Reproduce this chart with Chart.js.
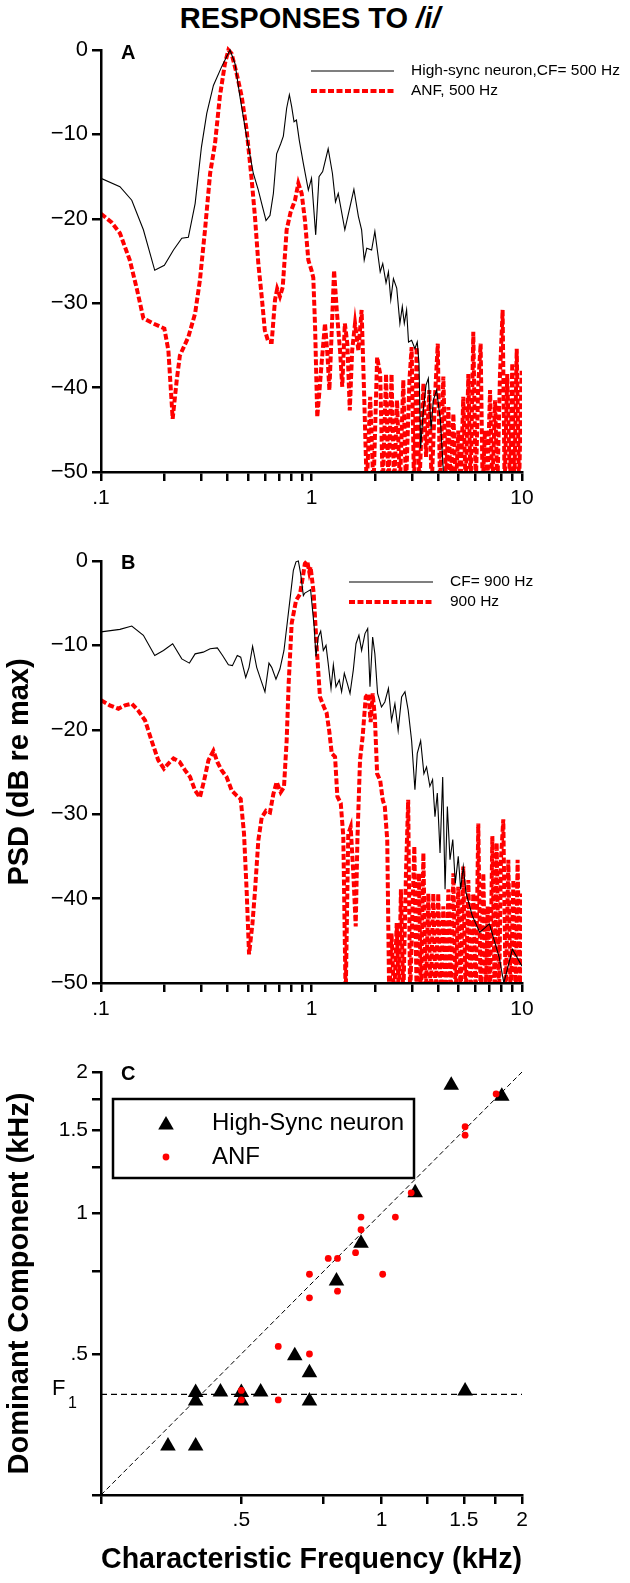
<!DOCTYPE html>
<html>
<head>
<meta charset="utf-8">
<script src="https://cdn.jsdelivr.net/npm/chart.js@4.4.1/dist/chart.umd.min.js"></script>
<style>
  body { margin: 0; background: #fff; }
  #page { position: relative; width: 630px; height: 1583px; font-family: "Liberation Sans", Arial, sans-serif; color: #000; }
  canvas { position: absolute; left: 0; }
  #title { position: absolute; top: 2px; left: 0; width: 620px; text-align: center; font-weight: bold; font-size: 29px; line-height: 32px; z-index: 2; }
  .tag { position: absolute; left: 121px; font-weight: bold; font-size: 20px; line-height: 20px; z-index: 2; }
</style>
</head>
<body>
<div id="page">
  <div id="title">RESPONSES TO <i>/i/</i></div>
  <div class="tag" style="top:42px">A</div>
  <div class="tag" style="top:552px">B</div>
  <div class="tag" style="top:1063px">C</div>
  <canvas id="chartA" width="630" height="500" style="top:40px"></canvas>
  <canvas id="chartB" width="630" height="500" style="top:551px"></canvas>
  <canvas id="chartC" width="630" height="521" style="top:1062px"></canvas>
</div>
<script>
// ---- data ----
const xTickValues = [0.1, 0.2, 0.3, 0.4, 0.5, 0.6, 0.7, 0.8, 0.9, 1, 2, 3, 4, 5, 6, 7, 8, 9, 10];
const xTickLabels = { 0.1: ".1", 1: "1", 10: "10" };
const dbTicks = [-50, -40, -30, -20, -10, 0];

// panel A: high-sync neuron CF 500 Hz vs ANF 500 Hz (kHz, dB re max)
const aNeuronFreq = [0.1, 0.123, 0.14, 0.159, 0.18, 0.2, 0.221, 0.242, 0.26, 0.28, 0.3, 0.318, 0.342, 0.374, 0.395,
  0.41, 0.433, 0.457, 0.492, 0.529, 0.559, 0.58, 0.608, 0.635, 0.659, 0.683, 0.714, 0.735, 0.762, 0.785,
  0.805, 0.826, 0.848, 0.875, 0.914, 0.966, 1.0, 1.047, 1.086, 1.13, 1.2, 1.257, 1.3, 1.34, 1.44,
  1.51, 1.59, 1.67, 1.73, 1.78, 1.83, 1.93, 2.0, 2.12, 2.18, 2.26, 2.32, 2.38, 2.45, 2.54,
  2.63, 2.7, 2.76, 2.83, 2.89, 2.99, 3.1, 3.18, 3.24, 3.3, 3.4, 3.5, 3.59, 3.7, 3.79, 3.93, 4.1, 4.3];
const aNeuronDb = [-15.2, -16.2, -17.8, -21.3, -26.1, -25.5, -23.7, -22.3, -22.2, -18.2, -11.5, -7.5, -4.2, -2.0, -0.8,
  0, -1.6, -5.5, -10.3, -14.6, -16.6, -18.2, -20.2, -19.6, -17.0, -12.3, -11.1, -10.2, -6.9, -5.3,
  -6.7, -8.5, -8.3, -10.7, -13.4, -16.6, -15.2, -21.9, -15.0, -14.4, -11.7, -14.6, -18.0, -17.0, -21.3,
  -19.0, -16.5, -19.7, -21.3, -24.9, -23.5, -23.7, -21.5, -26.3, -25.3, -27.6, -26.3, -29.6, -27.1, -28.2,
  -32.4, -30.4, -32.4, -30.8, -34.6, -34.4, -35.4, -34.6, -37.1, -47.2, -42.6, -39.7, -38.9, -45.0, -41.5, -40.3, -44, -53];

const aAnfFreq = [0.1, 0.112, 0.123, 0.137, 0.148, 0.159, 0.177, 0.2, 0.209, 0.219, 0.229, 0.237, 0.26, 0.28, 0.295,
  0.312, 0.33, 0.348, 0.367, 0.388, 0.403, 0.417, 0.441, 0.466, 0.492, 0.52, 0.539, 0.559, 0.58, 0.6,
  0.624, 0.647, 0.671, 0.687, 0.708, 0.73, 0.762, 0.796, 0.835, 0.866, 0.898, 0.931, 0.966, 1.0, 1.02,
  1.04, 1.065, 1.09, 1.117, 1.159, 1.19, 1.216, 1.248, 1.28, 1.318, 1.366, 1.4, 1.44, 1.48, 1.52,
  1.56, 1.61, 1.67, 1.73, 1.78, 1.83, 1.9, 1.97, 2.05, 2.12, 2.18, 2.26, 2.32, 2.4, 2.47,
  2.55, 2.63, 2.73, 2.81, 2.92, 2.99, 3.07, 3.16, 3.25, 3.4, 3.5, 3.63, 3.72, 3.86, 3.98,
  4.08, 4.23, 4.36, 4.47, 4.58, 4.72, 4.85, 4.98, 5.11, 5.26, 5.4, 5.56, 5.7, 5.87, 6.03,
  6.2, 6.36, 6.5, 6.67, 6.84, 7.05, 7.23, 7.45, 7.64, 7.86, 8.09, 8.27, 8.51, 8.77, 8.99,
  9.19, 9.44, 9.68, 9.96];
const aAnfDb = [-19.4, -20.4, -21.7, -24.9, -28.3, -31.8, -32.4, -33.0, -35.6, -43.7, -39.1, -36.2, -34.0, -31.2, -27.3,
  -21.3, -14.6, -11.1, -5.5, -1.6, 0, -0.4, -2.8, -5.5, -9.5, -15.4, -19.8, -25.3, -29.2, -33.2,
  -34.6, -34.6, -29.6, -28.3, -29.2, -28.1, -21.3, -19.2, -17.8, -15.8, -17.0, -20.2, -24.9, -26.1, -27.0,
  -32.8, -43.5, -40.5, -37.1, -32.4, -36.0, -40.3, -33.2, -26.1, -30.8, -35.6, -39.9, -32.4, -34.8, -42.7,
  -35.6, -32.4, -35.6, -30.8, -41.1, -52, -41.1, -52, -36.4, -38.4, -52, -38.4, -52, -38.4, -52,
  -41.5, -52, -39.1, -52, -39.1, -35.2, -52, -35.2, -52, -39.5, -48.2, -40.3, -52, -41.1, -34.8,
  -52, -38.7, -52, -42.3, -52, -43.1, -52, -45.1, -52, -41.1, -52, -38.4, -52, -33.4, -52,
  -39.5, -34.8, -52, -45.1, -52, -40.3, -52, -41.5, -52, -38.4, -30.8, -52, -38.4, -52, -37.1,
  -52, -35.4, -52, -38.0];

// panel B: CF 900 Hz vs ANF 900 Hz
const bNeuronFreq = [0.1, 0.123, 0.14, 0.159, 0.18, 0.198, 0.219, 0.242, 0.263, 0.28, 0.306, 0.33, 0.357, 0.378, 0.403,
  0.421, 0.444, 0.461, 0.487, 0.505, 0.525, 0.549, 0.573, 0.601, 0.628, 0.647, 0.678, 0.708, 0.74, 0.768,
  0.796, 0.82, 0.844, 0.866, 0.888, 0.915, 0.93, 0.96, 0.99, 1.03, 1.05, 1.077, 1.106, 1.138, 1.172,
  1.2, 1.238, 1.27, 1.307, 1.355, 1.39, 1.432, 1.479, 1.524, 1.58, 1.627, 1.68, 1.73, 1.795, 1.849,
  1.896, 1.952, 2.0, 2.06, 2.15, 2.23, 2.32, 2.4, 2.49, 2.58, 2.68, 2.78, 2.88, 2.99, 3.1,
  3.18, 3.3, 3.42, 3.52, 3.65, 3.76, 3.86, 3.96, 4.08, 4.2, 4.31, 4.42, 4.55, 4.69, 4.82,
  4.98, 5.11, 5.26, 5.42, 5.8, 6.3, 7.0, 7.8, 8.2, 9.0, 10];
const bNeuronDb = [-8.4, -8.1, -7.7, -8.8, -11.2, -10.6, -9.8, -11.6, -12.1, -11.0, -10.8, -10.4, -10.3, -11.2, -12.3,
  -12.4, -11.2, -11.4, -13.8, -12.6, -10.1, -12.6, -14.0, -15.5, -12.1, -12.6, -14.0, -12.8, -10.6, -7.2,
  -3.9, -1.1, -0.1, 0, -1.5, -4.1, -3.8, -3.6, -3.4, -7.8, -11.3, -9.0, -8.3, -10.6, -10.0,
  -12.1, -15.1, -12.3, -14.9, -14.1, -15.5, -13.3, -14.5, -15.7, -12.9, -9.8, -8.8, -10.6, -8.6, -8.0,
  -14.9, -9.0, -11.0, -15.7, -17.3, -16.7, -15.1, -18.9, -16.9, -20.1, -16.1, -15.5, -17.7, -21.3, -27.1,
  -22.8, -21.3, -25.2, -24.4, -26.7, -25.9, -30.3, -27.5, -34.6, -25.6, -38.9, -29.1, -35.4, -33.0, -38.2,
  -35.0, -38.9, -36.2, -39.3, -42, -44, -43, -47, -50, -46, -48];

const bAnfFreq = [0.1, 0.11, 0.121, 0.13, 0.14, 0.15, 0.162, 0.174, 0.187, 0.199, 0.209, 0.221, 0.236, 0.251, 0.265,
  0.28, 0.295, 0.309, 0.324, 0.342, 0.357, 0.374, 0.395, 0.418, 0.441, 0.461, 0.478, 0.492, 0.505, 0.524,
  0.539, 0.559, 0.58, 0.608, 0.635, 0.659, 0.683, 0.714, 0.74, 0.762, 0.779, 0.805, 0.844, 0.882, 0.915,
  0.93, 0.954, 0.976, 0.99, 1.024, 1.06, 1.097, 1.146, 1.18, 1.215, 1.248, 1.294, 1.327, 1.377, 1.416,
  1.453, 1.495, 1.535, 1.58, 1.622, 1.652, 1.7, 1.75, 1.81, 1.862, 1.91, 1.953, 2.0, 2.05, 2.12,
  2.18, 2.23, 2.29, 2.34, 2.4, 2.47, 2.54, 2.6, 2.66, 2.73, 2.81, 2.88, 2.94, 3.02, 3.08,
  3.16, 3.24, 3.31, 3.4, 3.49, 3.59, 3.68, 3.79, 3.89, 4.0, 4.11, 4.23, 4.34, 4.47, 4.58,
  4.72, 4.84, 4.98, 5.11, 5.26, 5.4, 5.56, 5.7, 5.87, 6.03, 6.2, 6.36, 6.55, 6.73, 6.87,
  7.05, 7.23, 7.42, 7.58, 7.78, 7.94, 8.15, 8.37, 8.61, 8.83, 9.1, 9.33, 9.53, 9.77, 10.0];
const bAnfDb = [-16.5, -17.1, -17.5, -17.1, -16.9, -17.7, -18.9, -21.3, -23.6, -24.6, -24.0, -23.4, -23.8, -24.8, -25.6,
  -27.2, -28.0, -26.0, -23.6, -22.5, -23.8, -24.8, -25.6, -27.2, -27.8, -28.2, -32.3, -39.1, -46.6, -43.0,
  -39.1, -33.1, -30.4, -29.6, -29.8, -27.6, -26.2, -27.4, -26.8, -21.3, -14.5, -7.4, -4.7, -3.9, -1.5,
  -0.3, 0, -1.3, -0.7, -3.8, -10.5, -16.1, -17.3, -18.0, -20.2, -22.8, -23.2, -27.9, -28.7, -32.6,
  -52, -32.3, -31.5, -37.0, -43.3, -33.1, -23.6, -20.8, -16.1, -15.7, -19.1, -15.7, -18.5, -25.2, -26.0,
  -28.3, -29.1, -33.1, -52, -44.1, -52, -42.9, -52, -38.9, -52, -37.0, -28.3, -52, -40.9, -33.8,
  -52, -37.0, -52, -34.6, -52, -39.4, -52, -39.4, -52, -39.4, -52, -40.9, -52, -38.9, -52,
  -37.0, -52, -38.6, -52, -36.2, -52, -37.8, -52, -39.4, -52, -31.1, -52, -37.0, -52, -40.9,
  -52, -32.6, -52, -33.4, -52, -35.4, -30.6, -52, -35.4, -52, -37.8, -52, -35.4, -52, -39.4];

// panel C: characteristic frequency vs dominant component (kHz)
const cfTicks = [0.25, 0.5, 0.75, 1, 1.25, 1.5, 1.75, 2];
const cfTickLabels = { 0.5: ".5", 1: "1", 1.5: "1.5", 2: "2" };
const highSyncCf = [0.348, 0.399, 0.399, 0.399, 0.451, 0.5, 0.5, 0.55, 0.651, 0.7, 0.7, 0.8, 0.903, 1.18, 1.41, 1.81, 1.51];
const highSyncDom = [0.318, 0.318, 0.414, 0.397, 0.415, 0.414, 0.397, 0.415, 0.496, 0.456, 0.397, 0.716, 0.862, 1.105, 1.875, 1.775, 0.417];
const anfCf = [1.76, 1.51, 1.51, 1.157, 0.903, 1.07, 0.903, 0.879, 0.768, 0.804, 0.7, 1.005, 0.7, 0.804, 0.6, 0.7, 0.5, 0.5, 0.6];
const anfDom = [1.796, 1.528, 1.466, 1.104, 0.98, 0.98, 0.921, 0.823, 0.8, 0.8, 0.74, 0.74, 0.659, 0.681, 0.519, 0.5, 0.418, 0.399, 0.399];
const unityLine = [0.25, 2];
const f1Khz = 0.41;

// ---- shared styling ----
const FONT = "'Liberation Sans', Arial, sans-serif";
Chart.defaults.font.family = FONT;
Chart.defaults.color = "#000";

const toXY = (xs, ys) => xs.map((x, i) => ({ x: x, y: ys[i] }));
const axisGrid = { drawOnChartArea: false, drawTicks: true, tickLength: 9, color: "#000", lineWidth: 2.5 };
const axisBorder = { color: "#000", width: 2.5, z: 1 };
const clipBox = { left: 0, top: 4, right: 0, bottom: 0 };

function legendPlugin(rows, x0, x1, textX) {
  return {
    id: "psdLegend",
    afterDraw(chart) {
      const ctx = chart.ctx;
      ctx.save();
      rows.forEach(r => {
        ctx.beginPath();
        ctx.setLineDash(r.dash || []);
        ctx.lineWidth = r.width;
        ctx.strokeStyle = r.color;
        ctx.moveTo(x0, r.y);
        ctx.lineTo(x1, r.y);
        ctx.stroke();
        ctx.setLineDash([]);
        ctx.fillStyle = "#000";
        ctx.font = "15.5px " + FONT;
        ctx.textBaseline = "middle";
        ctx.fillText(r.text, textX, r.y);
      });
      ctx.restore();
    }
  };
}

function psdChart(id, neuron, anf, labels, legendX, yTitle) {
  const ctx = document.getElementById(id).getContext("2d");
  return new Chart(ctx, {
    type: "line",
    data: {
      datasets: [{
        label: labels[0],
        data: neuron,
        borderColor: "#000",
        borderWidth: 1.1,
        pointRadius: 0,
        tension: 0,
        clip: clipBox
      }, {
        label: labels[1],
        data: anf,
        borderColor: "#ff0000",
        borderWidth: 4,
        borderDash: [6, 2.5],
        pointRadius: 0,
        tension: 0,
        clip: clipBox
      }]
    },
    options: {
      responsive: false,
      animation: false,
      devicePixelRatio: 1,
      layout: { padding: { top: 10, left: 0, right: 108, bottom: 18 } },
      plugins: { legend: { display: false }, tooltip: { enabled: false } },
      scales: {
        x: {
          type: "logarithmic",
          min: 0.1,
          max: 10,
          afterBuildTicks: s => { s.ticks = xTickValues.map(v => ({ value: v })); },
          ticks: {
            autoSkip: false, maxRotation: 0, padding: 5,
            font: { size: 21 },
            callback: v => xTickLabels[v] || ""
          },
          grid: axisGrid,
          border: axisBorder,
          afterFit: s => { s.height = 50; s.paddingLeft = 0; s.paddingRight = 0; }
        },
        y: {
          min: -50,
          max: 0,
          afterBuildTicks: s => { s.ticks = dbTicks.map(v => ({ value: v })); },
          ticks: {
            padding: 4,
            font: { size: 22 },
            callback: v => (v === 0 ? "0" : "\u2212" + Math.abs(v))
          },
          grid: axisGrid,
          border: axisBorder,
          title: {
            display: !!yTitle,
            text: yTitle || "",
            font: { size: 29, weight: "bold" },
            padding: { top: 3, bottom: 0 }
          },
          afterFit: s => { s.width = 101; s.paddingTop = 0; s.paddingBottom = 0; }
        }
      }
    },
    plugins: [legendPlugin([
      { y: 31, color: "#000", width: 1.1, text: labels[0] },
      { y: 51, color: "#ff0000", width: 4, dash: [6, 2.5], text: labels[1] }
    ], legendX[0], legendX[1], legendX[2])]
  });
}

psdChart("chartA", toXY(aNeuronFreq, aNeuronDb), toXY(aAnfFreq, aAnfDb),
  ["High-sync neuron,CF= 500 Hz", "ANF, 500 Hz"], [311, 394, 411], null);
psdChart("chartB", toXY(bNeuronFreq, bNeuronDb), toXY(bAnfFreq, bAnfDb),
  ["CF= 900 Hz", "900 Hz"], [349, 433, 450], "PSD (dB re max)");

// panel C legend box + F1 label
const panelCExtras = {
  id: "panelCExtras",
  afterDraw(chart) {
    const ctx = chart.ctx;
    ctx.save();
    ctx.lineWidth = 2.5;
    ctx.strokeStyle = "#000";
    ctx.strokeRect(113, 37, 301, 79);
    ctx.fillStyle = "#000";
    Chart.helpers.drawPoint(ctx, { pointStyle: "triangle", radius: 9, borderWidth: 0 }, 166, 63);
    ctx.fillStyle = "#ff0000";
    Chart.helpers.drawPoint(ctx, { pointStyle: "circle", radius: 3.4, borderWidth: 0 }, 166, 95);
    ctx.fillStyle = "#000";
    ctx.font = "24px " + FONT;
    ctx.textBaseline = "middle";
    ctx.fillText("High-Sync neuron", 212, 61);
    ctx.fillText("ANF", 212, 95);
    const yF = chart.scales.y.getPixelForValue(f1Khz);
    ctx.font = "22px " + FONT;
    ctx.fillText("F", 52, yF - 5);
    ctx.font = "16px " + FONT;
    ctx.fillText("1", 68, yF + 9);
    ctx.restore();
  }
};

const cfAxis = (title) => ({
  type: "logarithmic",
  min: 0.25,
  max: 2,
  afterBuildTicks: s => { s.ticks = cfTicks.map(v => ({ value: v })); },
  ticks: { autoSkip: false, maxRotation: 0, padding: 4, font: { size: 21 }, callback: v => cfTickLabels[v] || "" },
  grid: axisGrid,
  border: axisBorder,
  title: { display: true, text: title, font: { size: 29, weight: "bold" }, padding: { top: 3, bottom: 6 } }
});

new Chart(document.getElementById("chartC").getContext("2d"), {
  type: "scatter",
  data: {
    datasets: [{
      label: "ANF",
      data: toXY(anfCf, anfDom),
      pointStyle: "circle",
      pointRadius: 3.4,
      pointBorderWidth: 0,
      backgroundColor: "#ff0000",
      borderColor: "#ff0000"
    }, {
      label: "High-Sync neuron",
      data: toXY(highSyncCf, highSyncDom),
      pointStyle: "triangle",
      pointRadius: 9,
      pointBorderWidth: 0,
      backgroundColor: "#000",
      borderColor: "#000"
    }, {
      label: "unity",
      data: toXY(unityLine, unityLine),
      showLine: true,
      borderColor: "#000",
      borderWidth: 1,
      borderDash: [5, 3],
      pointRadius: 0
    }, {
      label: "F1",
      data: toXY(unityLine, [f1Khz, f1Khz]),
      showLine: true,
      borderColor: "#000",
      borderWidth: 1.2,
      borderDash: [6, 4],
      pointRadius: 0
    }]
  },
  options: {
    responsive: false,
    animation: false,
    devicePixelRatio: 1,
    layout: { padding: { top: 10, left: 0, right: 108, bottom: 0 } },
    plugins: { legend: { display: false }, tooltip: { enabled: false } },
    scales: {
      x: Object.assign(cfAxis("Characteristic Frequency (kHz)"), {
        afterFit: s => { s.height = 88; s.paddingLeft = 0; s.paddingRight = 0; }
      }),
      y: Object.assign(cfAxis("Dominant Component (kHz)"), {
        afterFit: s => { s.width = 101; s.paddingTop = 0; s.paddingBottom = 0; }
      })
    }
  },
  plugins: [panelCExtras]
});
</script>
</body>
</html>
